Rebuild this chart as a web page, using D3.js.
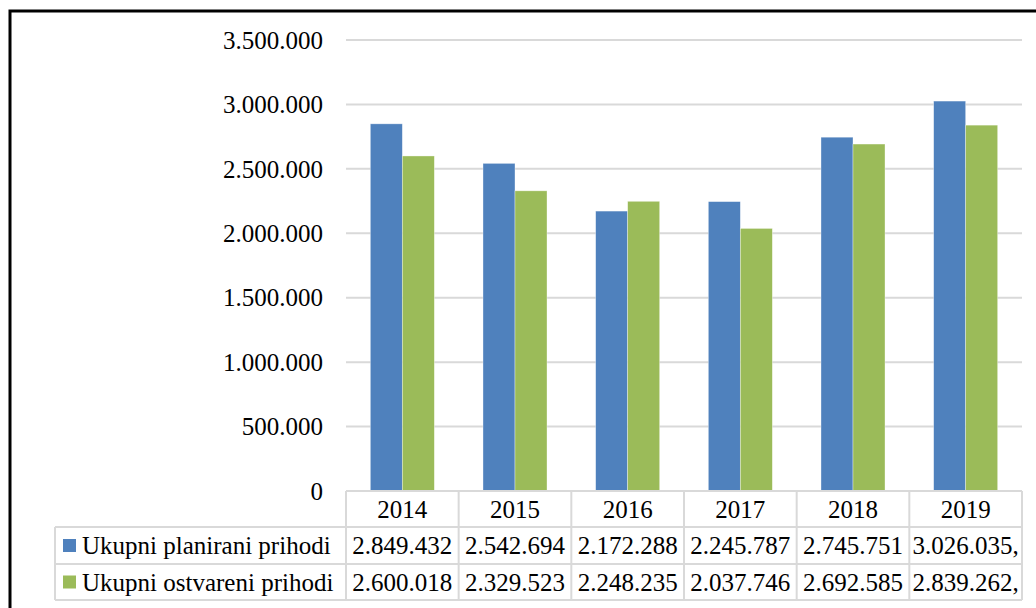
<!DOCTYPE html>
<html lang="hr">
<head>
<meta charset="UTF-8">
<title>Ukupni prihodi</title>
<style>
    html,body { margin:0; padding:0; background:#fff; }
    svg { display:block; }
    text { font-family:"Liberation Serif", "DejaVu Serif", serif; fill:#000; }
</style>
<script src="https://cdn.jsdelivr.net/npm/d3@7"></script>
</head>
<body>
<svg id="chart"></svg>
<script>
// data
const years = ['2014', '2015', '2016', '2017', '2018', '2019'];
const seriesNames = ['Ukupni planirani prihodi', 'Ukupni ostvareni prihodi'];
const planned = [2849432, 2542694, 2172288, 2245787, 2745751, 3026035];
const realized = [2600018, 2329523, 2248235, 2037746, 2692585, 2839262];
const plannedLabels = ['2.849.432', '2.542.694', '2.172.288', '2.245.787', '2.745.751', '3.026.035,'];
const realizedLabels = ['2.600.018', '2.329.523', '2.248.235', '2.037.746', '2.692.585', '2.839.262,'];
const yTicks = [0, 500000, 1000000, 1500000, 2000000, 2500000, 3000000, 3500000];

const W = 1036, H = 608;
const colors = ['#4f81bd', '#9bbb59'];
const gridCol = '#d9d9d9';
const fs = 25;

const svg = d3.select('#chart').attr('width', W).attr('height', H);

const plotL = 346, plotR = 1022, plotT = 40, plotB = 491;
const rowH = [plotB, 527, 564, 600];
const tableL = 55;

const x0 = d3.scaleBand().domain(years).range([plotL, plotR]);
const x1 = d3.scaleBand().domain([0, 1]).range([0, x0.bandwidth()]).paddingOuter(0.76);
const y = d3.scaleLinear().domain([0, 3500000]).range([plotB, plotT]);

const fmt = v => d3.format(',')(v).replace(/,/g, '.');

// gridlines
svg.append('g').selectAll('line').data(yTicks.slice(1)).enter().append('line')
    .attr('x1', plotL).attr('x2', plotR)
    .attr('y1', d => y(d)).attr('y2', d => y(d))
    .attr('stroke', gridCol).attr('stroke-width', 2);

// y labels
svg.append('g').selectAll('text').data(yTicks).enter().append('text')
    .attr('x', 323).attr('y', d => y(d))
    .attr('dy', '0.35em')
    .attr('text-anchor', 'end')
    .style('font-size', fs + 'px')
    .text(fmt);

// bars
const rows = [planned, realized];
const grp = svg.append('g');
rows.forEach((vals, si) => {
    grp.selectAll('.bar' + si).data(vals).enter().append('rect')
        .attr('class', 'bar' + si)
        .attr('x', (d, i) => x0(years[i]) + x1(si))
        .attr('width', x1.bandwidth())
        .attr('y', d => y(d))
        .attr('height', d => y(0) - y(d))
        .attr('fill', colors[si])
        .attr('stroke', '#fff').attr('stroke-opacity', 0.5).attr('stroke-width', 0.7);
});

// data table
const tbl = svg.append('g').attr('stroke', gridCol).attr('stroke-width', 2).attr('fill', 'none');
tbl.append('line').attr('x1', plotL).attr('x2', plotR).attr('y1', rowH[0]).attr('y2', rowH[0]);
[1, 2, 3].forEach(r => {
    tbl.append('line').attr('x1', tableL).attr('x2', plotR).attr('y1', rowH[r]).attr('y2', rowH[r]);
});
tbl.append('line').attr('x1', tableL).attr('x2', tableL).attr('y1', rowH[1]).attr('y2', rowH[3]);
years.forEach(yr => {
    tbl.append('line').attr('x1', x0(yr)).attr('x2', x0(yr)).attr('y1', rowH[0]).attr('y2', rowH[3]);
});
tbl.append('line').attr('x1', plotR).attr('x2', plotR).attr('y1', rowH[0]).attr('y2', rowH[3]);

const cx = yr => x0(yr) + x0.bandwidth() / 2;
const midY = r => (rowH[r] + rowH[r + 1]) / 2;

svg.append('g').selectAll('text').data(years).enter().append('text')
    .attr('x', cx).attr('y', midY(0)).attr('dy', '0.35em')
    .attr('text-anchor', 'middle').style('font-size', fs + 'px')
    .text(d => d);

[plannedLabels, realizedLabels].forEach((labels, si) => {
    const g = svg.append('g');
    g.selectAll('text').data(labels).enter().append('text')
        .attr('x', (d, i) => cx(years[i])).attr('y', midY(si + 1)).attr('dy', '0.35em')
        .attr('text-anchor', 'middle').style('font-size', fs + 'px')
        .text(d => d);
    // legend key
    g.append('rect')
        .attr('x', 63).attr('y', midY(si + 1) - 6.5)
        .attr('width', 13).attr('height', 13)
        .attr('fill', colors[si]);
    g.append('text')
        .attr('x', 82).attr('y', midY(si + 1)).attr('dy', '0.35em')
        .style('font-size', fs + 'px')
        .text(seriesNames[si]);
});

// outer frame (only left/top visible in the crop)
svg.append('rect')
    .attr('x', 10).attr('y', 11)
    .attr('width', W + 20).attr('height', H + 20)
    .attr('fill', 'none').attr('stroke', '#000').attr('stroke-width', 3);
</script>
</body>
</html>
